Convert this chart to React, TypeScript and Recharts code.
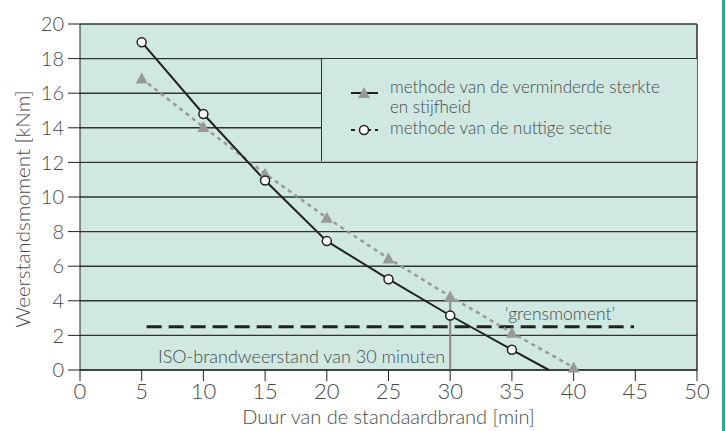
import React from "react"
import {
  CartesianGrid,
  Legend,
  Line,
  LineChart,
  ReferenceDot,
  ReferenceLine,
  XAxis,
  YAxis,
} from "recharts"

// duur van de standaardbrand [min]
const minutenSterkte = [5, 10, 15, 20, 25, 30, 35, 40]
const verminderdeSterkte = [16.85, 14.05, 11.35, 8.8, 6.45, 4.25, 2.15, 0.15]

const minutenSectie = [5, 10, 15, 20, 25, 30, 35, 38]
const nuttigeSectie = [18.95, 14.8, 10.95, 7.45, 5.25, 3.15, 1.17, 0]

const xTicks = [0, 5, 10, 15, 20, 25, 30, 35, 40, 45, 50]
const yTicks = [0, 2, 4, 6, 8, 10, 12, 14, 16, 18, 20]

const grensmoment = 2.5
const grensVan = 5.4
const grensTot = 44.9
const isoDuur = 30

const sterkteData = minutenSterkte.map((t, i) => ({ t, m: verminderdeSterkte[i] }))
const sectieData = minutenSectie.map((t, i) => ({ t, m: nuttigeSectie[i] }))

const font = "Lato, 'DejaVu Sans', sans-serif"
const textGray = "#4a4a4a"
const teal = "#cfe8e2"

function Triangle(props: any) {
  const { cx, cy } = props
  if (cx == null || cy == null) return null
  return <path d={`M${cx},${cy - 6} L${cx + 6},${cy + 5} L${cx - 6},${cy + 5} Z`} fill="#999" />
}

function Circle(props: any) {
  const { cx, cy, payload } = props
  if (cx == null || cy == null || payload.m === 0) return null
  return <circle cx={cx} cy={cy} r={4.5} fill="#fff" stroke="#222" strokeWidth={1.5} />
}

function LegendBox() {
  const ts = { fontFamily: font, fontSize: 17, fill: textGray, fontWeight: 300 }
  return (
    <svg width={376} height={102} style={{ display: "block" }}>
      <line x1={29} x2={56} y1={34} y2={34} stroke="#222" strokeWidth={2} />
      <path d="M42,28 L48,39 L36,39 Z" fill="#999" />
      <text x={68} y={34} style={ts}>methode van de verminderde sterkte</text>
      <text x={68} y={54} style={ts}>en stijfheid</text>
      <line x1={29} x2={56} y1={71} y2={71} stroke="#222" strokeWidth={2} strokeDasharray="4 4" />
      <circle cx={42} cy={71} r={4.5} fill="#fff" stroke="#222" strokeWidth={1.5} />
      <text x={68} y={75} style={ts}>methode van de nuttige sectie</text>
    </svg>
  )
}

export default function App() {
  return (
    <div style={{ position: "absolute", left: 0, top: 0, width: 726, height: 431, background: "#fff" }}>
      <LineChart width={726} height={431} margin={{ top: 24, right: 29, left: 0, bottom: 0 }}>
        <CartesianGrid
          vertical={false}
          stroke="#333"
          strokeWidth={1.4}
          fill={teal}
          fillOpacity={1}
        />
        <XAxis
          type="number"
          dataKey="t"
          domain={[0, 50]}
          ticks={xTicks}
          height={61}
          tickSize={11}
          tickMargin={2}
          stroke="#222"
          tick={{ fontFamily: font, fontSize: 22, fill: textGray, fontWeight: 300 }}
          label={({ viewBox }: any) => (
            <text
              x={viewBox.x + viewBox.width / 2}
              y={viewBox.y + 54}
              textAnchor="middle"
              style={{ fontFamily: font, fontSize: 20, fill: textGray, fontWeight: 300 }}
            >
              Duur van de standaardbrand [min]
            </text>
          )}
        />
        <YAxis
          type="number"
          dataKey="m"
          domain={[0, 20]}
          ticks={yTicks}
          width={80}
          tickSize={12}
          tickMargin={4}
          stroke="#222"
          tick={{ fontFamily: font, fontSize: 20, fill: textGray, fontWeight: 300 }}
          label={({ viewBox }: any) => {
            const cy = viewBox.y + viewBox.height / 2 + 12
            return (
              <text
                x={30}
                y={cy}
                textAnchor="middle"
                transform={`rotate(-90 30 ${cy})`}
                style={{ fontFamily: font, fontSize: 20.5, fill: textGray, fontWeight: 300 }}
              >
                Weerstandsmoment [kNm]
              </text>
            )
          }}
        />
        <ReferenceLine x={50} stroke="#222" strokeWidth={1.4} />
        <ReferenceLine
          segment={[{ x: isoDuur, y: 0 }, { x: isoDuur, y: 4.2 }]}
          stroke="#888"
          strokeWidth={2}
        />
        <ReferenceLine
          segment={[{ x: grensVan, y: grensmoment }, { x: grensTot, y: grensmoment }]}
          stroke="#222"
          strokeWidth={3}
          strokeDasharray="15 7"
        />
        <ReferenceDot
          x={38.9}
          y={grensmoment}
          r={0}
          fill="none"
          stroke="none"
          label={{
            value: "\u2018grensmoment\u2019",
            position: "top",
            offset: 7,
            style: { fontFamily: font, fontSize: 17.5, fill: textGray, fontWeight: 300 },
          }}
        />
        <ReferenceDot
          x={isoDuur}
          y={0.8}
          r={0}
          fill="none"
          stroke="none"
          label={{
            value: "ISO-brandweerstand van 30 minuten",
            position: "left",
            offset: 5,
            style: { fontFamily: font, fontSize: 18, fill: textGray, fontWeight: 300 },
          }}
        />
        <Line
          data={sterkteData}
          dataKey="m"
          name="methode van de verminderde sterkte en stijfheid"
          stroke="#999"
          strokeWidth={2.5}
          strokeDasharray="4 4"
          dot={<Triangle />}
          activeDot={false}
          isAnimationActive={false}
        />
        <Line
          data={sectieData}
          dataKey="m"
          name="methode van de nuttige sectie"
          stroke="#222"
          strokeWidth={2}
          dot={<Circle />}
          activeDot={false}
          isAnimationActive={false}
        />
        <Legend
          layout="horizontal"
          verticalAlign="middle"
          align="center"
          content={() => <LegendBox />}
          wrapperStyle={{
            left: 321,
            top: 59,
            width: 376,
            height: 102,
            background: teal,
            borderLeft: "1.5px solid #333",
            boxSizing: "border-box",
          }}
        />
      </LineChart>
      <div style={{ position: "absolute", left: 722, top: 0, width: 3, height: 431, background: "#2aa99b" }} />
    </div>
  )
}
